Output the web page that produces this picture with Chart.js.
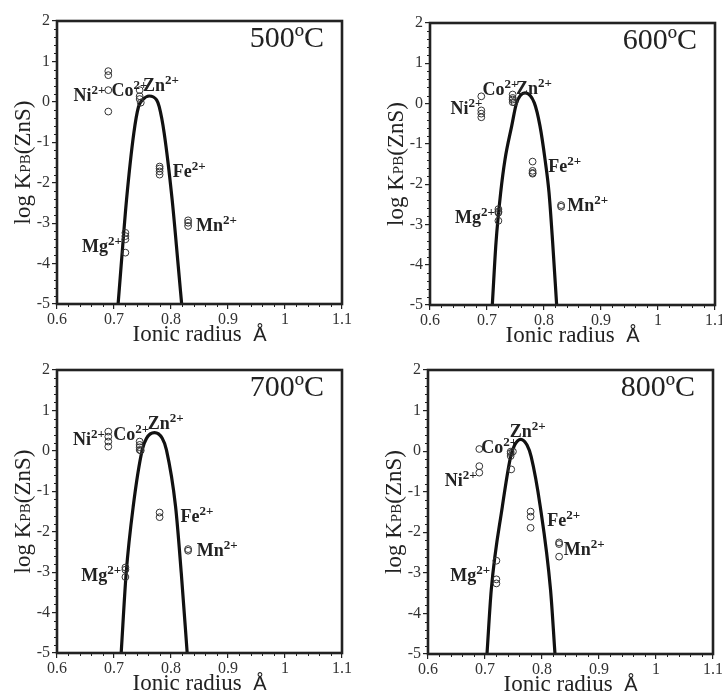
<!DOCTYPE html>
<html><head><meta charset="utf-8">
<script src="https://cdn.jsdelivr.net/npm/chart.js@4/dist/chart.umd.min.js"></script>
<style>
html,body{margin:0;padding:0;background:#fff;overflow:hidden;}
#wrap{position:relative;width:722px;height:693px;overflow:hidden;background:#fff;}
#wrap div{position:absolute;}
</style></head><body><div id="wrap"></div>
<script>
// ---------------- DATA ----------------
const temperatures = ['500ºC', '600ºC', '700ºC', '800ºC'];
const xTicks = [0.6, 0.7, 0.8, 0.9, 1, 1.1];
const yTicks = [2, 1, 0, -1, -2, -3, -4, -5];
const ionNames = ['Ni', 'Co', 'Zn', 'Fe', 'Mn', 'Mg'];

// measured partition coefficients (ionic radius Å, log K)
const ptsX500 = [0.69, 0.69, 0.69, 0.69, 0.745, 0.745, 0.745, 0.747, 0.78, 0.78, 0.78, 0.78, 0.83, 0.83, 0.83, 0.72, 0.72, 0.72, 0.72];
const ptsY500 = [0.76, 0.66, 0.29, -0.24, 0.29, 0.14, 0.07, -0.02, -1.60, -1.65, -1.72, -1.80, -2.93, -2.99, -3.07, -3.24, -3.32, -3.40, -3.73];
const ptsX600 = [0.69, 0.69, 0.69, 0.69, 0.745, 0.745, 0.745, 0.745, 0.748, 0.78, 0.78, 0.78, 0.78, 0.83, 0.83, 0.72, 0.72, 0.72, 0.72];
const ptsY600 = [0.18, -0.17, -0.25, -0.34, 0.225, 0.14, 0.10, 0.035, 0.03, -1.44, -1.67, -1.72, -1.74, -2.52, -2.56, -2.62, -2.68, -2.71, -2.91];
const ptsX700 = [0.69, 0.69, 0.69, 0.69, 0.745, 0.745, 0.745, 0.745, 0.747, 0.78, 0.78, 0.83, 0.83, 0.72, 0.72, 0.72];
const ptsY700 = [0.476, 0.35, 0.23, 0.105, 0.23, 0.147, 0.09, 0.023, 0.01, -1.525, -1.64, -2.43, -2.47, -2.885, -2.94, -3.12];
const ptsX800 = [0.69, 0.69, 0.69, 0.745, 0.745, 0.745, 0.749, 0.746, 0.78, 0.78, 0.78, 0.83, 0.83, 0.83, 0.72, 0.72, 0.72];
const ptsY800 = [0.053, -0.37, -0.53, -0.013, -0.054, -0.12, -0.01, -0.45, -1.49, -1.615, -1.89, -2.25, -2.29, -2.60, -2.70, -3.16, -3.26];

// fitted lattice-strain curves
const curveX500 = [0.7072, 0.7125, 0.722, 0.7348, 0.743, 0.750, 0.7617, 0.7747, 0.7793, 0.788, 0.802, 0.8127, 0.8187];
const curveY500 = [-5, -4.06, -2.42, -0.77, -0.12, 0.047, 0.145, 0.047, -0.12, -0.77, -2.42, -4.06, -5];
const curveX600 = [0.7093, 0.7158, 0.724, 0.7316, 0.7433, 0.752, 0.7667, 0.783, 0.793, 0.8018, 0.8088, 0.8152, 0.8222];
const curveY600 = [-5, -3.45, -2.21, -1.386, -0.56, 0.018, 0.266, 0.018, -0.56, -1.386, -2.21, -3.45, -5];
const curveX700 = [0.7126, 0.7214, 0.7337, 0.7495, 0.757, 0.771, 0.7846, 0.792, 0.808, 0.818, 0.8284];
const curveY700 = [-5, -3.02, -1.377, 0.023, 0.31, 0.45, 0.31, 0.023, -1.377, -3.02, -5];
const curveX800 = [0.7035, 0.711, 0.7304, 0.745, 0.752, 0.7626, 0.7737, 0.781, 0.797, 0.815, 0.8228];
const curveY800 = [-5, -3.42, -1.37, -0.136, 0.15, 0.29, 0.15, -0.136, -1.37, -3.42, -5];

const ptsX = [ptsX500, ptsX600, ptsX700, ptsX800];
const ptsY = [ptsY500, ptsY600, ptsY700, ptsY800];
const curveX = [curveX500, curveX600, curveX700, curveX800];
const curveY = [curveY500, curveY600, curveY700, curveY800];

// ---------------- LAYOUT / ANNOTATIONS ----------------
// label anchors (data units) in ionNames order
const labelAnchors = [
  [[0.629, 0.016], [0.6956, 0.147], [0.751, 0.27], [0.803, -1.854], [0.844, -3.19], [0.644, -3.72]],
  [[0.636, -0.27], [0.692, 0.225], [0.751, 0.25], [0.8076, -1.70], [0.841, -2.67], [0.644, -2.97]],
  [[0.628, 0.147], [0.6986, 0.27], [0.759, 0.534], [0.8167, -1.75], [0.845, -2.6], [0.6425, -3.21]],
  [[0.6292, -0.86], [0.6936, -0.04], [0.7433, 0.357], [0.8094, -1.845], [0.838, -2.56], [0.639, -3.19]]
];
const panels = [
  {cx: 0,   cy: 0,   cw: 380, ch: 346, L: 57,  T: 21,  R: 342, B: 304},
  {cx: 361, cy: 0,   cw: 380, ch: 346, L: 430, T: 23,  R: 715, B: 305},
  {cx: 0,   cy: 346, cw: 380, ch: 347, L: 57,  T: 370, R: 342, B: 653},
  {cx: 361, cy: 346, cw: 380, ch: 347, L: 428, T: 370, R: 713, B: 654}
];
const SERIF = '"Liberation Serif", "Times New Roman", serif';
const SANS = '"Liberation Sans", Arial, sans-serif';
const INK = '#222';

function decorPlugin(i) {
  return {
    id: 'decor' + i,
    afterDraw(chart) {
      const ctx = chart.ctx, a = chart.chartArea;
      const xs = chart.scales.x, ys = chart.scales.y;
      ctx.save();
      ctx.strokeStyle = INK; ctx.fillStyle = INK;
      // minor ticks
      ctx.lineWidth = 1;
      ctx.beginPath();
      for (let k = 0; k <= 25; k++) {
        if (k % 5 === 0) continue;
        const px = Math.round(xs.getPixelForValue(0.6 + k * 0.02)) + 0.5;
        ctx.moveTo(px, a.bottom); ctx.lineTo(px, a.bottom + 3);
      }
      for (let k = 0; k <= 35; k++) {
        if (k % 5 === 0) continue;
        const py = Math.round(ys.getPixelForValue(-5 + k * 0.2)) + 0.5;
        ctx.moveTo(a.left - 3, py); ctx.lineTo(a.left, py);
      }
      ctx.stroke();
      // frame
      ctx.lineWidth = 2.6;
      ctx.strokeRect(a.left, a.top, a.right - a.left, a.bottom - a.top);
      // temperature
      ctx.font = '30px ' + SERIF;
      ctx.textAlign = 'right'; ctx.textBaseline = 'alphabetic';
      ctx.fillText(temperatures[i], a.right - 18, a.top + 26);
      // ion labels
      ctx.textAlign = 'left';
      labelAnchors[i].forEach((pt, k) => {
        const px = xs.getPixelForValue(pt[0]), py = ys.getPixelForValue(pt[1]);
        ctx.font = 'bold 18px ' + SERIF;
        ctx.fillText(ionNames[k], px, py);
        const w = ctx.measureText(ionNames[k]).width;
        ctx.font = 'bold 13px ' + SERIF;
        ctx.fillText('2+', px + w, py - 7);
      });
      // y title
      ctx.save();
      ctx.translate(a.left - 27, (a.top + a.bottom) / 2);
      ctx.rotate(-Math.PI / 2);
      const parts = [['log K', '23px ' + SERIF], ['PB', '15px ' + SERIF], ['(ZnS)', '23px ' + SERIF]];
      let tot = 0;
      parts.forEach(p => { ctx.font = p[1]; tot += ctx.measureText(p[0]).width; });
      let x0 = -tot / 2;
      parts.forEach(p => { ctx.font = p[1]; ctx.fillText(p[0], x0, 0); x0 += ctx.measureText(p[0]).width; });
      ctx.restore();
      // x title
      ctx.font = '23px ' + SERIF;
      const t1 = 'Ionic radius  ';
      const w1 = ctx.measureText(t1).width;
      ctx.font = '20px ' + SANS;
      const w2 = ctx.measureText('Å').width;
      let sx = (a.left + a.right) / 2 - (w1 + w2) / 2;
      const by = a.bottom + 37;
      ctx.font = '23px ' + SERIF;
      ctx.fillText(t1, sx, by);
      ctx.font = '20px ' + SANS;
      ctx.fillText('Å', sx + w1, by);
      ctx.restore();
    }
  };
}

const wrap = document.getElementById('wrap');
panels.forEach((p, i) => {
  const div = document.createElement('div');
  div.style.left = p.cx + 'px'; div.style.top = p.cy + 'px';
  div.style.width = p.cw + 'px'; div.style.height = p.ch + 'px';
  const cv = document.createElement('canvas');
  cv.width = p.cw; cv.height = p.ch;
  cv.style.width = p.cw + 'px'; cv.style.height = p.ch + 'px';
  div.appendChild(cv); wrap.appendChild(div);
  new Chart(cv, {
    type: 'scatter',
    data: {
      datasets: [
        {
          type: 'scatter',
          data: ptsX[i].map((x, k) => ({x: x, y: ptsY[i][k]})),
          pointStyle: 'circle', pointRadius: 3.4, pointHoverRadius: 3.4,
          borderWidth: 1, borderColor: '#333', backgroundColor: 'rgba(255,255,255,0)'
        },
        {
          type: 'line',
          data: curveX[i].map((x, k) => ({x: x, y: curveY[i][k]})),
          borderColor: '#111', borderWidth: 3.2, pointRadius: 0, fill: false,
          cubicInterpolationMode: 'monotone'
        }
      ]
    },
    options: {
      responsive: false, animation: false, devicePixelRatio: 1,
      layout: {padding: {top: p.T - p.cy, right: p.cx + p.cw - p.R, left: 0, bottom: 0}},
      plugins: {legend: {display: false}, tooltip: {enabled: false}},
      scales: {
        x: {
          type: 'linear', min: 0.6, max: 1.1,
          afterBuildTicks: s => { s.ticks = xTicks.map(v => ({value: v})); },
          afterFit: s => { s.height = p.cy + p.ch - p.B; },
          ticks: {callback: v => String(v), font: {family: SERIF, size: 16}, color: '#333', padding: 1, maxRotation: 0, autoSkip: false},
          grid: {drawOnChartArea: false, drawTicks: true, tickLength: 5, color: INK, lineWidth: 1.2},
          border: {display: false}
        },
        y: {
          type: 'linear', min: -5, max: 2,
          afterBuildTicks: s => { s.ticks = yTicks.map(v => ({value: v})); },
          afterFit: s => { s.width = p.L - p.cx; },
          ticks: {callback: v => String(v), font: {family: SERIF, size: 16}, color: '#333', padding: 2, autoSkip: false},
          grid: {drawOnChartArea: false, drawTicks: true, tickLength: 5, color: INK, lineWidth: 1.2},
          border: {display: false}
        }
      }
    },
    plugins: [decorPlugin(i)]
  });
});
</script>
</body></html>
